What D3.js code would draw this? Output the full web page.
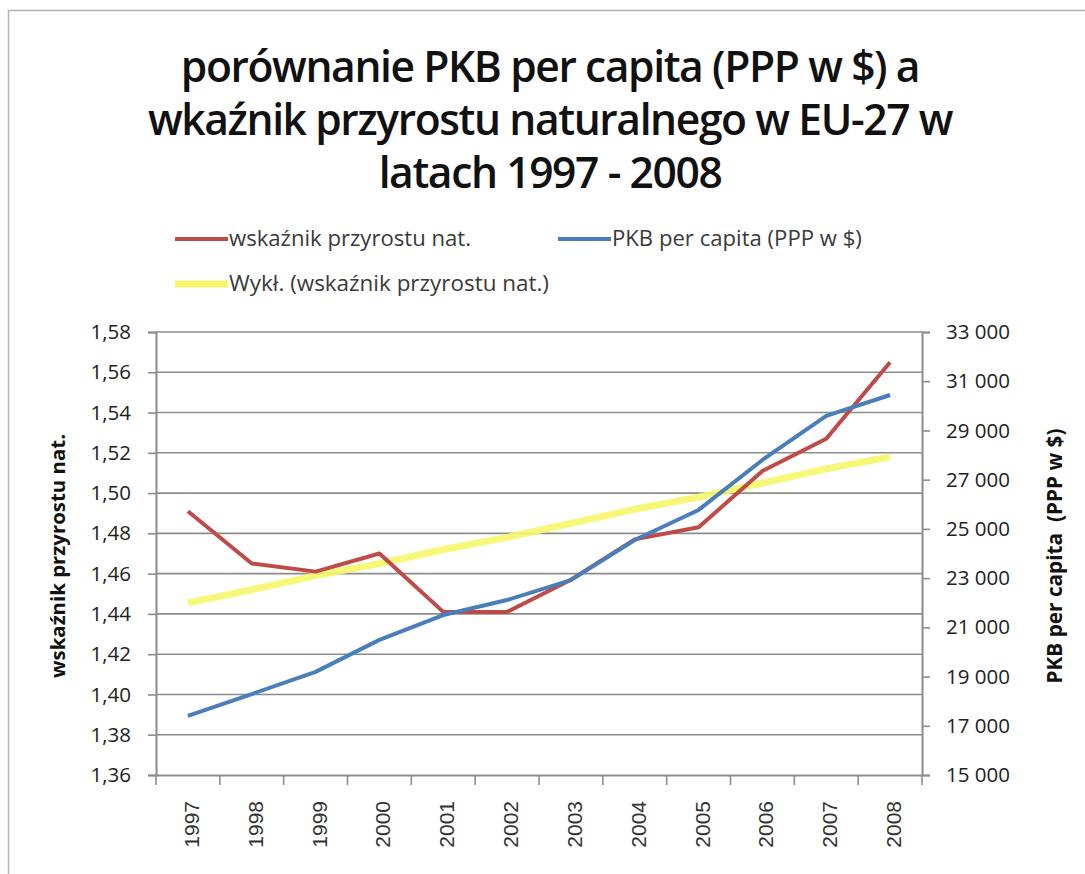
<!DOCTYPE html>
<html>
<head>
<meta charset="utf-8">
<script src="https://cdn.jsdelivr.net/npm/d3@7"></script>
<style>
  html, body { margin:0; padding:0; background:#fff; }
  svg { display:block; }
</style>
</head>
<body>
<svg id="chart" width="1085" height="874"></svg>
<script>
/* ── data ── */
const years      = ['1997','1998','1999','2000','2001','2002','2003','2004','2005','2006','2007','2008'];
const birthRate  = [1.491, 1.465, 1.461, 1.470, 1.441, 1.441, 1.457, 1.477, 1.483, 1.511, 1.527, 1.565];
const gdpPPP     = [17400, 18290, 19190, 20490, 21500, 22110, 22920, 24550, 25770, 27800, 29590, 30440];
const trendRate  = [1.4455, 1.452, 1.459, 1.465, 1.472, 1.478, 1.485, 1.492, 1.498, 1.505, 1.512, 1.518];
const leftTicks  = [1.36, 1.38, 1.40, 1.42, 1.44, 1.46, 1.48, 1.50, 1.52, 1.54, 1.56, 1.58];
const rightTicks = [15000, 17000, 19000, 21000, 23000, 25000, 27000, 29000, 31000, 33000];
const titleLines = ['porównanie PKB per capita (PPP w $) a', 'wkaźnik przyrostu naturalnego w EU-27 w', 'latach 1997 - 2008'];

const C = { red:'#BE4B48', blue:'#4A7EBB', yellow:'#F6F66A', grid:'#8C8C8C' };
const SANS = '"Open Sans", Lato, sans-serif';

const svg = d3.select('#chart');
const M = { left:156, right:922, top:332, bottom:775 };

// shrink / grow font until the text has the wanted width
function fit(sel, width) {
  const fs = +sel.attr('font-size');
  const w = sel.node().getComputedTextLength();
  sel.attr('font-size', (fs * width / w).toFixed(2));
  return sel;
}

// outer chart frame
svg.append('rect').attr('x',8.5).attr('y',10.5).attr('width',1100).attr('height',900)
  .attr('fill','#fff').attr('stroke','#b4b4b4').attr('stroke-width',1.5);

// title
const title = svg.append('g').attr('font-family', SANS).attr('font-weight', 600)
  .attr('fill', '#111').attr('text-anchor','middle');
const tl = titleLines.map((t, i) =>
  title.append('text').attr('x', 550).attr('y', 82 + i*53).attr('font-size', 40)
    .attr('letter-spacing', -1.4).text(t));
fit(tl[0], 735);
tl.forEach(t => t.attr('font-size', tl[0].attr('font-size')));

// scales
const x = d3.scaleBand().domain(years).range([M.left, M.right]);
const yL = d3.scaleLinear().domain([1.36, 1.58]).range([M.bottom, M.top]);
const yR = d3.scaleLinear().domain([15000, 33000]).range([M.bottom, M.top]);
const cx = d => x(d) + x.bandwidth()/2;

// gridlines
svg.append('g').selectAll('line').data(leftTicks.slice(1)).enter().append('line')
  .attr('x1', M.left).attr('x2', M.right)
  .attr('y1', d => yL(d)).attr('y2', d => yL(d))
  .attr('stroke', C.grid).attr('stroke-width', 1.6);

const fmtL = d => d3.format('.2f')(d).replace('.', ',');
const fmtR = d => d3.format(',')(d).replace(',', ' ');

// left axis
const axL = svg.append('g').attr('transform','translate(' + M.left + ',0)')
  .call(d3.axisLeft(yL).tickValues(leftTicks).tickFormat(fmtL).tickSize(8).tickPadding(17));
// right axis
const axR = svg.append('g').attr('transform','translate(' + M.right + ',0)')
  .call(d3.axisRight(yR).tickValues(rightTicks).tickFormat(fmtR).tickSize(8).tickPadding(16));
// bottom axis – ticks on category edges, labels rotated at band centres
const axB = svg.append('g').attr('transform','translate(0,' + M.bottom + ')')
  .call(d3.axisBottom(x).tickSize(0).tickFormat(''));
axB.selectAll('.tick').remove();
axB.selectAll('line.edge').data(years.concat(['end'])).enter().append('line').attr('class','edge')
  .attr('x1', (d,i) => M.left + i*x.bandwidth()).attr('x2', (d,i) => M.left + i*x.bandwidth())
  .attr('y1', 0).attr('y2', 10);
axB.selectAll('text.yr').data(years).enter().append('text').attr('class','yr')
  .attr('transform', d => 'translate(' + (cx(d)+11) + ',26) rotate(-90)')
  .attr('text-anchor','end').attr('font-family','"Liberation Sans", Arial, sans-serif')
  .attr('font-size', 21).attr('fill','#333').text(d => d);

[axL, axR, axB].forEach(a => {
  a.selectAll('path.domain').attr('stroke', C.grid).attr('stroke-width', 2);
  a.selectAll('line').attr('stroke', C.grid).attr('stroke-width', 1.6);
});
[axL, axR].forEach(a => a.selectAll('text')
  .attr('font-family', SANS).attr('font-size', 20.5).attr('fill', '#222'));

// axis titles
const ttl = svg.append('text').attr('transform','translate(65,556) rotate(-90)').attr('text-anchor','middle')
  .attr('font-family', SANS).attr('font-weight',700).attr('font-size',18)
  .attr('fill','#111').text('wskaźnik przyrostu nat.');
fit(ttl, 244);
const ttr = svg.append('text').attr('transform','translate(1062,556) rotate(-90)').attr('text-anchor','middle')
  .attr('font-family', SANS).attr('font-weight',700).attr('font-size',18)
  .attr('fill','#111').attr('xml:space','preserve').text('PKB per capita  (PPP w $)');
fit(ttr, 255);

// lines
const lineL = d3.line().x((d,i) => cx(years[i])).y(d => yL(d));
const lineR = d3.line().x((d,i) => cx(years[i])).y(d => yR(d));

svg.append('path').datum(trendRate).attr('d', lineL).attr('fill','none')
  .attr('stroke', C.yellow).attr('stroke-width', 7).attr('stroke-opacity', 0.9);
svg.append('path').datum(birthRate).attr('d', lineL).attr('fill','none')
  .attr('stroke', C.red).attr('stroke-width', 4).attr('stroke-linejoin','round');
svg.append('path').datum(gdpPPP).attr('d', lineR).attr('fill','none')
  .attr('stroke', C.blue).attr('stroke-width', 4).attr('stroke-linejoin','round');

// legend
const legend = [
  { label:'wskaźnik przyrostu nat.',         color:C.red,    w:4, x:175, y:239, tw:242 },
  { label:'PKB per capita (PPP w $)',        color:C.blue,   w:4, x:558, y:239, tw:250 },
  { label:'Wykł. (wskaźnik przyrostu nat.)', color:C.yellow, w:7, x:175, y:284, tw:320 }
];
const lg = svg.append('g');
legend.forEach(l => {
  lg.append('line').attr('x1', l.x).attr('x2', l.x + 53).attr('y1', l.y).attr('y2', l.y)
    .attr('stroke', l.color).attr('stroke-width', l.w);
  const t = lg.append('text').attr('x', l.x + 54).attr('y', l.y + 7)
    .attr('font-family', SANS).attr('font-size', 19)
    .attr('fill','#3a3a3a').text(l.label);
  fit(t, l.tw);
});
</script>
</body>
</html>
